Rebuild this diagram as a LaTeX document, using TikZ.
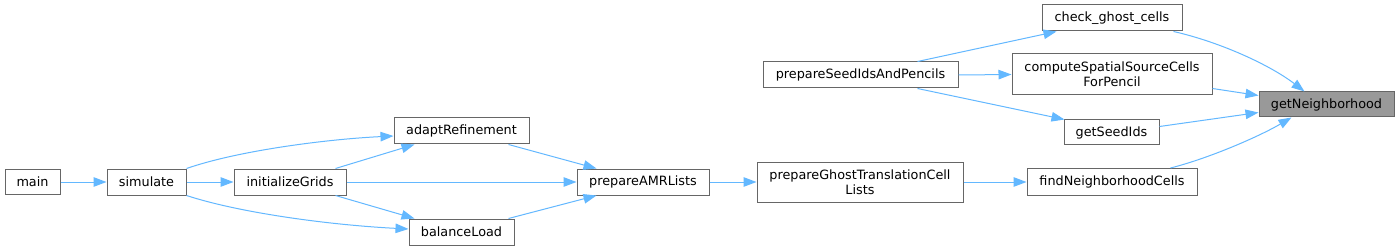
\documentclass[tikz,border=0pt]{standalone}
\usepackage{fontspec}
\setmainfont{DejaVu Sans}
\usetikzlibrary{arrows.meta,calc}
\definecolor{edgeblue}{HTML}{63B8FF}
\definecolor{boxgray}{HTML}{666666}
\definecolor{hlgray}{HTML}{999999}
\begin{document}
\begin{tikzpicture}[x=1pt,y=-1pt,
  fn/.style={draw=boxgray,line width=1pt,fill=white,inner sep=0pt,align=center,
    font=\fontsize{12.8}{15}\selectfont},
  cur/.style={fn,fill=hlgray},
  call/.style={draw=edgeblue,line width=1pt,-{Triangle[length=13pt,width=9.5pt,fill=edgeblue]}}]
\useasboundingbox (0,0) rectangle (1400,251);
\fill[white] (0,0) rectangle (1400,251);
% nodes
\node[fn,minimum width=55pt,minimum height=25pt] (main) at (32.5,182) {main};
\node[fn,minimum width=79pt,minimum height=26pt] (simulate) at (146.5,182) {simulate};
\node[fn,minimum width=112pt,minimum height=26pt] (init) at (290,182) {initializeGrids};
\node[fn,minimum width=135pt,minimum height=26pt] (adapt) at (461.5,131) {adaptRefinement};
\node[fn,minimum width=105pt,minimum height=26pt] (balance) at (461.5,232) {balanceLoad};
\node[fn,minimum width=132pt,minimum height=26pt] (amr) at (643,182) {prepareAMRLists};
\node[fn,minimum width=206pt,minimum height=40pt] (ghost) at (860,182) {prepareGhostTranslationCell\\Lists};
\node[fn,minimum width=195pt,minimum height=26pt] (seedpen) at (860.5,75) {prepareSeedIdsAndPencils};
\node[fn,minimum width=140pt,minimum height=26pt] (check) at (1112,18) {check\_ghost\_cells};
\node[fn,minimum width=200pt,minimum height=41pt] (spatial) at (1112,74.5) {computeSpatialSourceCells\\ForPencil};
\node[fn,minimum width=95pt,minimum height=25pt] (seedids) at (1111.5,132.5) {getSeedIds};
\node[fn,minimum width=170pt,minimum height=27pt] (findnb) at (1112,182) {findNeighborhoodCells};
\node[cur,minimum width=135pt,minimum height=25pt] (getnb) at (1326.5,104.5) {getNeighborhood};
% edges
\draw[call] (main.east) -- (simulate.west);
\draw[call] (simulate.east) -- (init.west);
\draw[call] (simulate.north east) .. controls (240,150) and (330,139) .. ($(adapt.west)+(0,5)$);
\draw[call] (simulate.south east) .. controls (240,213) and (330,225) .. ($(balance.west)+(0,-3)$);
\draw[call] ($(init.north east)+(-11,0)$) -- ($(adapt.south west)+(21,0)$);
\draw[call] ($(init.south east)+(-11,0)$) -- ($(balance.north west)+(6,0)$);
\draw[call] (init.east) -- (amr.west);
\draw[call] ($(adapt.south east)+(-21,0)$) -- ($(amr.north west)+(20,0)$);
\draw[call] ($(balance.north east)+(-6,0)$) -- ($(amr.south west)+(20,0)$);
\draw[call] (amr.east) -- (ghost.west);
\draw[call] (ghost.east) -- (findnb.west);
\draw[call] ($(seedpen.north)+(57,0)$) -- ($(check.south west)+(15,0)$);
\draw[call] (seedpen.east) -- (spatial.west);
\draw[call] ($(seedpen.south)+(57,0)$) -- ($(seedids.north west)+(1,0)$);
\draw[call] ($(check.south east)+(-9,0)$) .. controls (1220,42) and (1270,65) .. ($(getnb.north west)+(46,0)$);
\draw[call] ($(spatial.east)+(0,14)$) -- ($(getnb.west)+(0,-9)$);
\draw[call] ($(seedids.east)+(0,-6)$) -- ($(getnb.west)+(0,8)$);
\draw[call] ($(findnb.north east)+(-27,0)$) .. controls (1210,158) and (1260,136) .. ($(getnb.south west)+(33,0)$);
\end{tikzpicture}
\end{document}
